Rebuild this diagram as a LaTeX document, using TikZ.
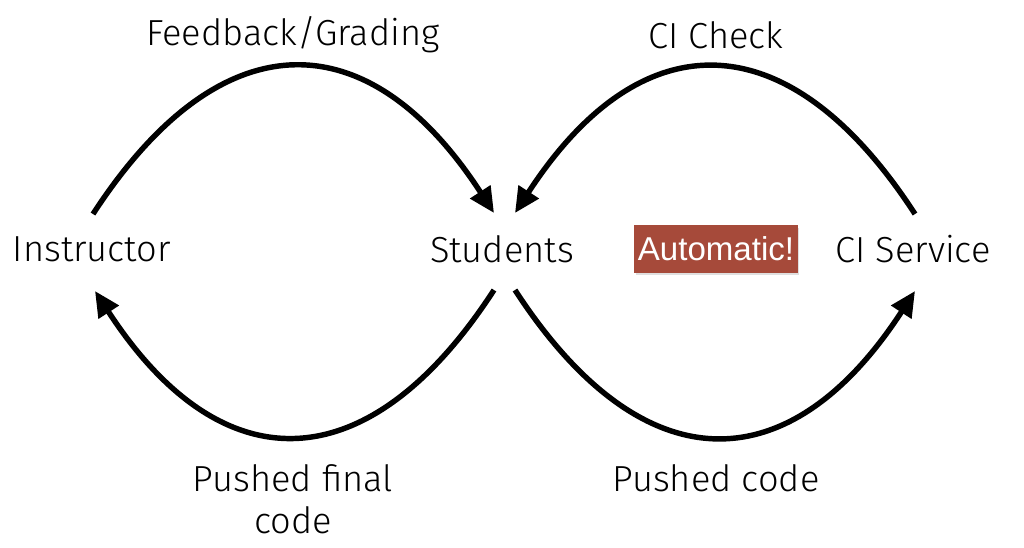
\documentclass[tikz,border=0pt]{standalone}
\usepackage{fontspec}
\setmainfont{Fira Sans Light}
\newfontfamily\boxfont{Liberation Sans}
\usepackage{tikz}
\usetikzlibrary{positioning,calc,arrows.meta,shadows}
\definecolor{boxred}{RGB}{166,74,58}
\tikzstyle{actor}=[inner sep=0pt, font=\fontsize{10.3}{12}\selectfont]
\tikzstyle{flow}=[line width=1.55pt, -{Triangle[length=7.2pt,width=6.6pt]}]

\begin{document}
\begin{tikzpicture}[x=0.01cm,y=0.01cm]
	\useasboundingbox (0,0) rectangle (1024,547);
	\node[actor] (instr) at (92,298) {Instructor};
	\node[actor] (stud) at (502,298) {Students};
	\node[actor] (cisvc) at (913,298) {CI Service};
	\node[fill=boxred, text=white, minimum width=1.63cm, minimum height=0.47cm, inner sep=0pt,
	drop shadow={opacity=0.25, shadow xshift=0.4pt, shadow yshift=-0.6pt},
	font=\boxfont\fontsize{9.4}{11}\selectfont] (auto) at (716,298) {Automatic!};
	\node[actor] (fbname) at (293,512) {Feedback/Grading};
	\node[actor] (ciname) at (716,512) {CI Check};
	\node[actor, align=center] (pfname) at (293,48) {Pushed final\\code};
	\node[actor] (pcname) at (716,69) {Pushed code};
	\coordinate (i1) at ($(instr)+(1,35)$);
	\coordinate (i2) at ($(instr)+(3,-42)$);
	\coordinate (s1) at ($(stud)+(-8,36)$);
	\coordinate (s2) at ($(stud)+(13,36)$);
	\coordinate (s3) at ($(stud)+(-8,-41)$);
	\coordinate (s4) at ($(stud)+(13,-41)$);
	\coordinate (c1) at ($(cisvc)+(2,35)$);
	\coordinate (c2) at ($(cisvc)+(2,-42)$);
	\draw[flow] (i1) to[out=57,in=123,looseness=1.48] (s1);
	\draw[flow] (c1) to[out=123,in=57,looseness=1.48] (s2);
	\draw[flow] (s3) to[out=237,in=303,looseness=1.48] (i2);
	\draw[flow] (s4) to[out=303,in=237,looseness=1.48] (c2);
\end{tikzpicture}
\end{document}
